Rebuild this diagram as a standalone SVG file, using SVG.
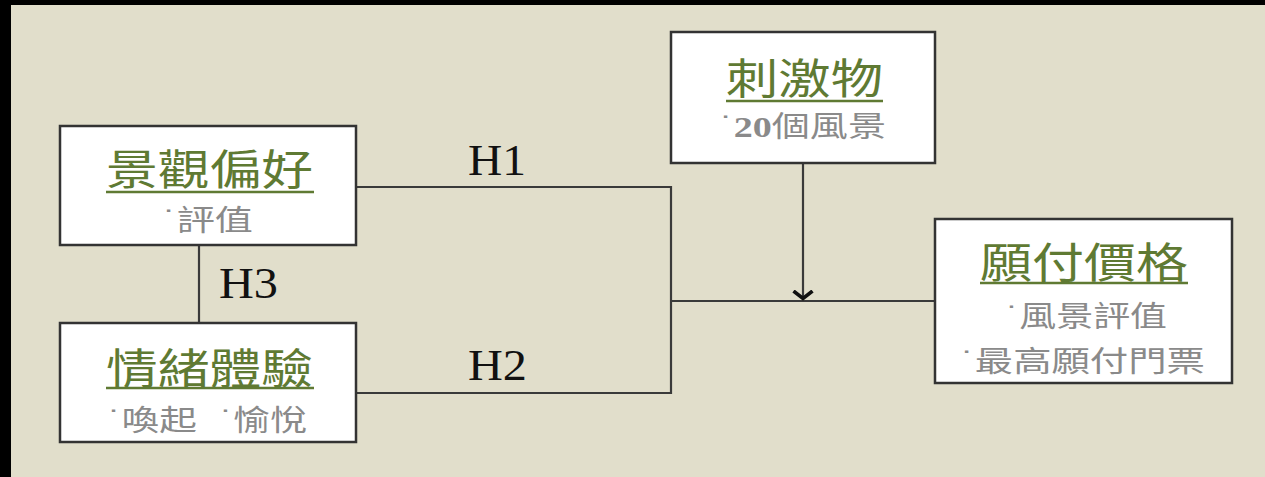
<svg xmlns="http://www.w3.org/2000/svg" width="1265" height="477" viewBox="0 0 1265 477">
<style>
.box{fill:#ffffff;stroke:#333333;stroke-width:2.5}
.title{font-family:"Noto Sans CJK TC","Noto Sans CJK SC",sans-serif;font-size:42px;fill:#5f7a33;text-anchor:middle}
.ul{stroke:#5f7a33;stroke-width:2.5}
.sub{font-family:"Noto Sans CJK TC","Noto Sans CJK SC",sans-serif;font-size:29px;fill:#8a8a8a;text-anchor:start}
.dot{font-family:"Liberation Sans",sans-serif}
.lbl{font-family:"Liberation Serif",serif;font-size:44px;fill:#111111}
.conn{fill:none;stroke:#3a3a3a;stroke-width:2.2}
</style>
<defs>
<marker id="arr" viewBox="0 0 11 22" refX="9.5" refY="11" markerWidth="11" markerHeight="22" markerUnits="userSpaceOnUse" orient="auto">
<path d="M1.5,1.5 L9,11 L1.5,20.5" fill="none" stroke="#111111" stroke-width="3.6" stroke-linejoin="miter"/>
</marker>
</defs>
<rect x="0" y="0" width="1265" height="477" fill="#e1decb"/>
<rect x="0" y="0" width="11" height="477" fill="#000000"/>
<rect x="0" y="0" width="1265" height="5" fill="#000000"/>
<g id="connectors">
<polyline class="conn" points="356,187 671,187 671,393 356,393"/>
<line class="conn" x1="199" y1="245" x2="199" y2="323"/>
<line class="conn" x1="671" y1="301" x2="935" y2="301"/>
<line class="conn" x1="803" y1="163" x2="803" y2="299" marker-end="url(#arr)"/>
<text class="lbl" x="468" y="175" textLength="58" lengthAdjust="spacingAndGlyphs">H1</text>
<text class="lbl" x="468" y="380" textLength="59" lengthAdjust="spacingAndGlyphs">H2</text>
<text class="lbl" x="219" y="298" textLength="59" lengthAdjust="spacingAndGlyphs">H3</text>
</g>
<g id="node-preference">
<rect class="box" x="60" y="126" width="296" height="119"/>
<text class="title" x="209.5" y="185" textLength="207" lengthAdjust="spacingAndGlyphs">景觀偏好</text>
<line class="ul" x1="106" y1="192" x2="314" y2="192"/>
<text class="sub" x="164" y="231" textLength="89" lengthAdjust="spacingAndGlyphs"><tspan class="dot">˙</tspan>評值</text>
</g>
<g id="node-emotion">
<rect class="box" x="60" y="323" width="296" height="119"/>
<text class="title" x="209.5" y="384" textLength="207" lengthAdjust="spacingAndGlyphs">情緒體驗</text>
<line class="ul" x1="106" y1="388" x2="314" y2="388"/>
<text class="sub" x="109" y="431" textLength="88" lengthAdjust="spacingAndGlyphs"><tspan class="dot">˙</tspan>喚起</text>
<text class="sub" x="221" y="431" textLength="86" lengthAdjust="spacingAndGlyphs"><tspan class="dot">˙</tspan>愉悅</text>
</g>
<g id="node-stimulus">
<rect class="box" x="671" y="32" width="264" height="131"/>
<text class="title" x="804.5" y="94" textLength="157" lengthAdjust="spacingAndGlyphs">刺激物</text>
<line class="ul" x1="726" y1="101" x2="883" y2="101"/>
<text class="sub" x="721" y="137" textLength="165" lengthAdjust="spacingAndGlyphs"><tspan class="dot">˙</tspan><tspan font-family="Liberation Serif" font-weight="bold">20</tspan>個風景</text>
</g>
<g id="node-wtp">
<rect class="box" x="935" y="219" width="297" height="164"/>
<text class="title" x="1084" y="278" textLength="208" lengthAdjust="spacingAndGlyphs">願付價格</text>
<line class="ul" x1="980" y1="283" x2="1188" y2="283"/>
<text class="sub" x="1007" y="327" textLength="160" lengthAdjust="spacingAndGlyphs"><tspan class="dot">˙</tspan>風景評值</text>
<text class="sub" x="962" y="372" textLength="243" lengthAdjust="spacingAndGlyphs"><tspan class="dot">˙</tspan>最高願付門票</text>
</g>
</svg>
